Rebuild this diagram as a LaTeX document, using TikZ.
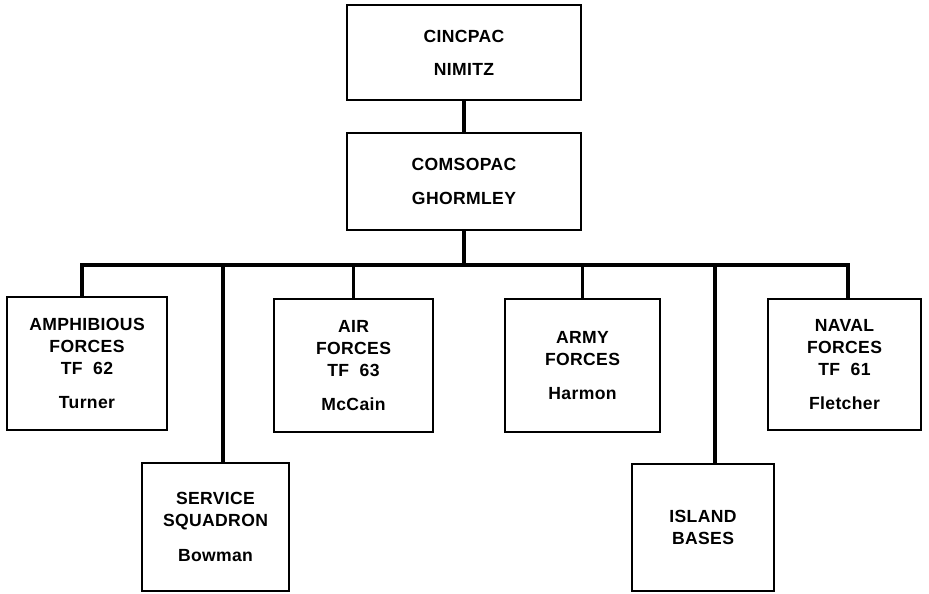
\documentclass[tikz,border=0pt]{standalone}
\usepackage{fontspec}
\setmainfont{Liberation Sans}[LetterSpace=2]
\usetikzlibrary{positioning}

\begin{document}
\begin{tikzpicture}[x=0.025cm, y=-0.025cm,
    cmdbox/.style={rectangle, draw, line width=1.3pt, align=center,
      inner sep=0pt, font=\fontsize{12.5}{15.6}\selectfont\bfseries},
    link/.style={line width=2.2pt},
  ]
  \useasboundingbox (0,0) rectangle (929,593);

  % top of the chain
  \node[cmdbox, minimum width=5.85cm, minimum height=2.375cm] (cincpac) at (464,52.5)
    {CINCPAC\\[8pt]NIMITZ};
  \node[cmdbox, minimum width=5.85cm, minimum height=2.425cm] (comsopac) at (464,181.5)
    {COMSOPAC\\[8pt]GHORMLEY};

  % subordinate commands
  \node[cmdbox, minimum width=4cm, minimum height=3.325cm] (amphib) at (87,363.5)
    {AMPHIBIOUS\\FORCES\\TF\ \ 62\\[9pt]Turner};
  \node[cmdbox, minimum width=3.975cm, minimum height=3.325cm] (air) at (353.5,365.5)
    {AIR\\FORCES\\TF\ \ 63\\[9pt]McCain};
  \node[cmdbox, minimum width=3.875cm, minimum height=3.325cm] (army) at (582.5,365.5)
    {ARMY\\FORCES\\[9pt]Harmon};
  \node[cmdbox, minimum width=3.825cm, minimum height=3.275cm] (naval) at (844.5,364.5)
    {NAVAL\\FORCES\\TF\ \ 61\\[9pt]Fletcher};
  \node[cmdbox, minimum width=3.675cm, minimum height=3.2cm] (service) at (215.5,527)
    {SERVICE\\SQUADRON\\[9pt]Bowman};
  \node[cmdbox, minimum width=3.55cm, minimum height=3.175cm] (island) at (703,527.5)
    {ISLAND\\BASES};

  % bus line
  \coordinate (busL) at (82,265);
  \coordinate (busR) at (848,265);
  \coordinate (servtap) at (223,265);
  \coordinate (islandtap) at (715,265);

  \draw[link] (cincpac) -- (comsopac);
  \draw[link] (comsopac.south) -- (comsopac.south |- busL);
  \draw[link] (amphib.north -| busL) -- (busL) -- (busR) -- (naval.north -| busR);
  \draw[link] (air.north) -- (air.north |- busL);
  \draw[link] (army.north) -- (army.north |- busL);
  \draw[link] (servtap) -- (servtap |- service.north);
  \draw[link] (islandtap) -- (islandtap |- island.north);
\end{tikzpicture}
\end{document}
